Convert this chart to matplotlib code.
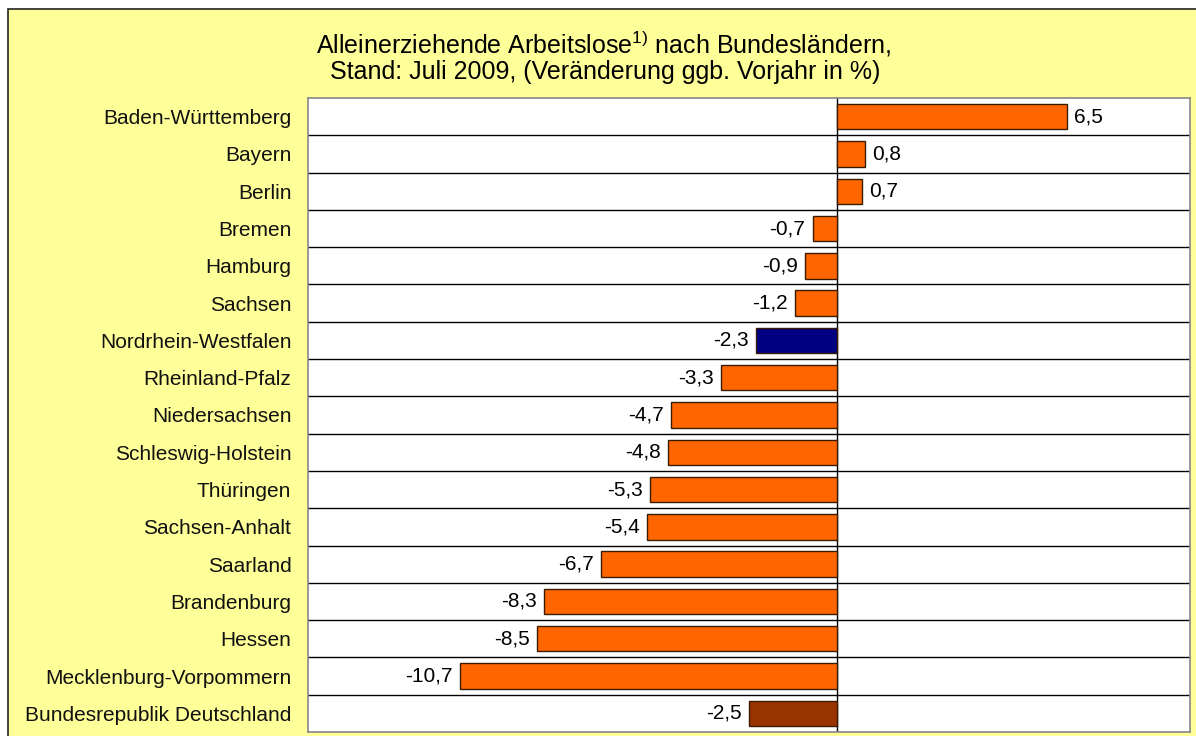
import matplotlib.pyplot as plt
from matplotlib.patches import Rectangle

# data
laender = ["Baden-Württemberg", "Bayern", "Berlin", "Bremen", "Hamburg", "Sachsen",
           "Nordrhein-Westfalen", "Rheinland-Pfalz", "Niedersachsen", "Schleswig-Holstein",
           "Thüringen", "Sachsen-Anhalt", "Saarland", "Brandenburg", "Hessen",
           "Mecklenburg-Vorpommern", "Bundesrepublik Deutschland"]
werte = [6.5, 0.8, 0.7, -0.7, -0.9, -1.2, -2.3, -3.3, -4.7, -4.8, -5.3, -5.4,
         -6.7, -8.3, -8.5, -10.7, -2.5]
farben = ["#FF6600"] * 6 + ["#000080"] + ["#FF6600"] * 9 + ["#993300"]

plt.rcParams['font.family'] = ['Liberation Sans', 'DejaVu Sans']
plt.rcParams['mathtext.fontset'] = 'custom'
plt.rcParams['mathtext.rm'] = 'Liberation Sans'

fig = plt.figure(figsize=(11.96, 7.36), dpi=100)
fig.patch.set_facecolor("white")

# yellow background with black border
bg = Rectangle((8 / 1196, -0.01), 1.01, 1 - 9 / 736 + 0.01, transform=fig.transFigure,
               facecolor="#FFFF99", edgecolor="#222222", linewidth=1.2, zorder=-10)
fig.patches.append(bg)

ax = fig.add_axes([308 / 1196, 1 - 732 / 736, (1190 - 308) / 1196, (732 - 98) / 736])
ax.set_zorder(5)
ax.set_facecolor("white")

y = list(range(len(laender)))
ax.barh(y, werte, height=0.68, color=farben, edgecolor="#3a1a00", linewidth=1.0, zorder=3)

for yi, v in zip(y, werte):
    txt = f"{v:.1f}".replace(".", ",")
    if v >= 0:
        ax.text(v + 0.2, yi, txt, va="center", ha="left", fontsize=15, zorder=4)
    else:
        ax.text(v - 0.2, yi, txt, va="center", ha="right", fontsize=15, zorder=4)

ax.set_xlim(-15, 10)
ax.set_ylim(len(laender) - 0.5, -0.5)
ax.set_yticks(y)
ax.set_yticklabels(laender, fontsize=15, color="#111111")
ax.tick_params(axis="y", length=0, pad=12)
ax.set_xticks([])

for b in range(1, len(laender)):
    ax.axhline(b - 0.5, color="black", linewidth=1.0, zorder=1)
ax.axvline(0, color="black", linewidth=1.0, zorder=2)

for s in ax.spines.values():
    s.set_color("#888888")
    s.set_linewidth(1.2)

fig.text(603 / 1196, 1 - 44 / 736,
         "Alleinerziehende Arbeitslose$^{1)}$ nach Bundesländern,",
         ha="center", va="center", fontsize=18)
fig.text(605 / 1196, 1 - 72 / 736,
         "Stand: Juli 2009, (Veränderung ggb. Vorjahr in %)",
         ha="center", va="center", fontsize=18)

fig.savefig("out.png", dpi=100)
